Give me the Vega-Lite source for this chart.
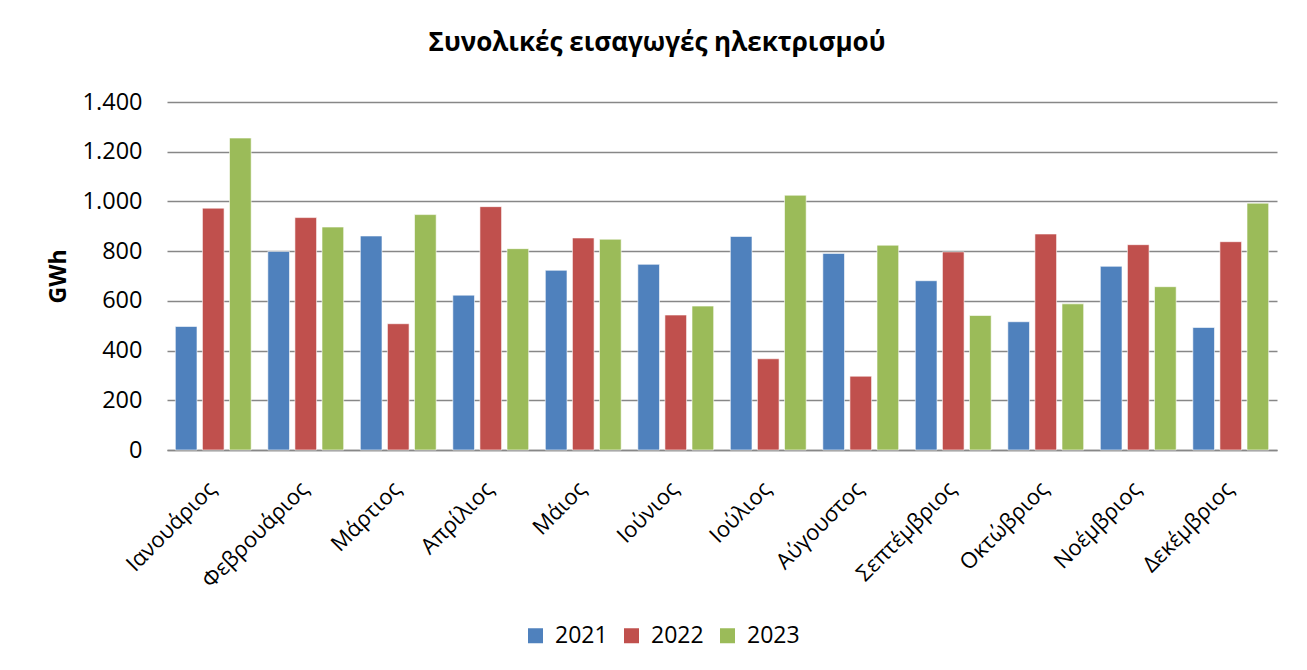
{
  "$schema": "https://vega.github.io/schema/vega-lite/v6.json",
  "width": 1110,
  "height": 348,
  "autosize": {"type": "none"},
  "padding": {"left": 167, "top": 102, "right": 30, "bottom": 220},
  "background": "white",
  "title": {
    "text": "Συνολικές εισαγωγές ηλεκτρισμού",
    "font": "Open Sans",
    "fontSize": 26,
    "fontWeight": "bold",
    "color": "#000000",
    "anchor": "middle",
    "dx": -65,
    "offset": 34
  },
  "data": {
    "values": [
      {"month": "Ιανουάριος", "year": "2021", "gwh": 497},
      {"month": "Ιανουάριος", "year": "2022", "gwh": 973},
      {"month": "Ιανουάριος", "year": "2023", "gwh": 1255},
      {"month": "Φεβρουάριος", "year": "2021", "gwh": 799},
      {"month": "Φεβρουάριος", "year": "2022", "gwh": 935},
      {"month": "Φεβρουάριος", "year": "2023", "gwh": 897},
      {"month": "Μάρτιος", "year": "2021", "gwh": 861},
      {"month": "Μάρτιος", "year": "2022", "gwh": 508},
      {"month": "Μάρτιος", "year": "2023", "gwh": 947},
      {"month": "Απρίλιος", "year": "2021", "gwh": 623},
      {"month": "Απρίλιος", "year": "2022", "gwh": 979},
      {"month": "Απρίλιος", "year": "2023", "gwh": 810},
      {"month": "Μάιος", "year": "2021", "gwh": 723},
      {"month": "Μάιος", "year": "2022", "gwh": 853},
      {"month": "Μάιος", "year": "2023", "gwh": 848},
      {"month": "Ιούνιος", "year": "2021", "gwh": 747},
      {"month": "Ιούνιος", "year": "2022", "gwh": 543},
      {"month": "Ιούνιος", "year": "2023", "gwh": 579},
      {"month": "Ιούλιος", "year": "2021", "gwh": 859},
      {"month": "Ιούλιος", "year": "2022", "gwh": 367},
      {"month": "Ιούλιος", "year": "2023", "gwh": 1025},
      {"month": "Αύγουστος", "year": "2021", "gwh": 791},
      {"month": "Αύγουστος", "year": "2022", "gwh": 297},
      {"month": "Αύγουστος", "year": "2023", "gwh": 824},
      {"month": "Σεπτέμβριος", "year": "2021", "gwh": 681},
      {"month": "Σεπτέμβριος", "year": "2022", "gwh": 797},
      {"month": "Σεπτέμβριος", "year": "2023", "gwh": 541},
      {"month": "Οκτώβριος", "year": "2021", "gwh": 516},
      {"month": "Οκτώβριος", "year": "2022", "gwh": 869},
      {"month": "Οκτώβριος", "year": "2023", "gwh": 588},
      {"month": "Νοέμβριος", "year": "2021", "gwh": 739},
      {"month": "Νοέμβριος", "year": "2022", "gwh": 826},
      {"month": "Νοέμβριος", "year": "2023", "gwh": 657},
      {"month": "Δεκέμβριος", "year": "2021", "gwh": 493},
      {"month": "Δεκέμβριος", "year": "2022", "gwh": 838},
      {"month": "Δεκέμβριος", "year": "2023", "gwh": 993}
    ]
  },
  "mark": {"type": "bar", "stroke": "white", "strokeWidth": 0.6},
  "encoding": {
    "x": {
      "field": "month",
      "type": "nominal",
      "sort": null,
      "scale": {"paddingInner": 0.18, "paddingOuter": 0.09},
      "axis": {
        "title": null,
        "labelAngle": -45,
        "labelFont": "Open Sans",
        "labelFontSize": 22,
        "labelColor": "#000000",
        "labelPadding": 28,
        "labelOffset": -8,
        "ticks": false,
        "domainColor": "#878787",
        "domainWidth": 1.5,
        "grid": false
      }
    },
    "xOffset": {
      "field": "year",
      "type": "nominal",
      "scale": {"paddingInner": 0.2, "paddingOuter": 0}
    },
    "y": {
      "field": "gwh",
      "type": "quantitative",
      "scale": {"domain": [0, 1400], "nice": false},
      "axis": {
        "title": "GWh",
        "titleFont": "Open Sans",
        "titleFontSize": 23,
        "titleFontWeight": "bold",
        "titleColor": "#000000",
        "titleX": -109,
        "titleY": 174,
        "titleAngle": -90,
        "titleAlign": "center",
        "titleBaseline": "middle",
        "values": [0, 200, 400, 600, 800, 1000, 1200, 1400],
        "labelExpr": "replace(format(datum.value, ','), ',', '.')",
        "labelFont": "Open Sans",
        "labelFontSize": 23.5,
        "labelColor": "#000000",
        "labelPadding": 25,
        "ticks": false,
        "domain": false,
        "grid": true,
        "gridColor": "#878787",
        "gridWidth": 1.5
      }
    },
    "color": {
      "field": "year",
      "type": "nominal",
      "scale": {"domain": ["2021", "2022", "2023"], "range": ["#4F81BD", "#C0504D", "#9BBB59"]},
      "legend": {
        "title": null,
        "orient": "none",
        "direction": "horizontal",
        "legendX": 357,
        "legendY": 522,
        "symbolType": "square",
        "symbolSize": 225,
        "symbolStrokeWidth": 0,
        "labelFont": "Open Sans",
        "labelFontSize": 23,
        "labelColor": "#000000",
        "labelOffset": 8,
        "columnPadding": 12
      }
    }
  },
  "config": {
    "view": {"stroke": null}
  }
}
